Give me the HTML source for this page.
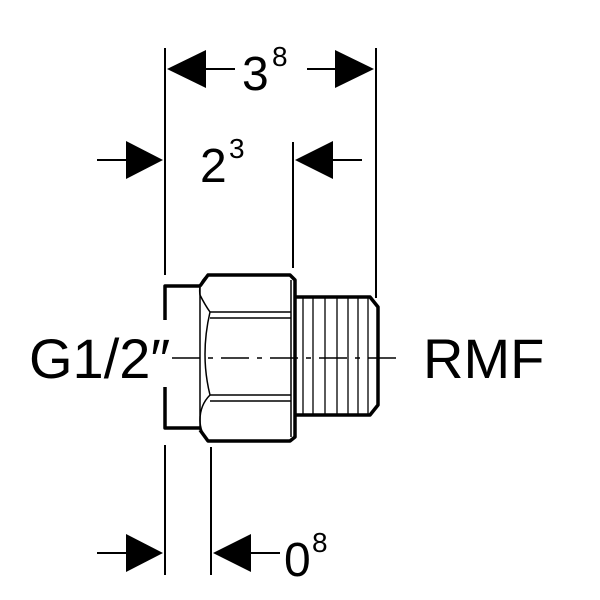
<!DOCTYPE html>
<html><head><style>
html,body{margin:0;padding:0;background:#fff;width:600px;height:600px;overflow:hidden}
svg text{font-family:"Liberation Sans",sans-serif;fill:#000}
</style></head><body>
<svg width="600" height="600" viewBox="0 0 600 600" xmlns="http://www.w3.org/2000/svg">
<g stroke="#000" stroke-width="2" fill="none">
<!-- extension lines -->
<line x1="165" y1="48" x2="165" y2="275"/>
<line x1="165" y1="445" x2="165" y2="575"/>
<line x1="376" y1="48" x2="376" y2="298"/>
<line x1="293" y1="142" x2="293" y2="268"/>
<line x1="211" y1="447" x2="211" y2="575"/>
<!-- dim lines -->
<line x1="205" y1="69" x2="235" y2="69"/>
<line x1="307" y1="69" x2="337" y2="69"/>
<line x1="97" y1="160" x2="127" y2="160"/>
<line x1="333" y1="160" x2="362" y2="160"/>
<line x1="97" y1="553" x2="127" y2="553"/>
<line x1="250" y1="553" x2="280" y2="553"/>
</g>
<g fill="#000">
<polygon points="167,69 206,50 206,88"/>
<polygon points="374,69 335,50 335,88"/>
<polygon points="163,160 126,141 126,179"/>
<polygon points="295,160 333,141 333,179"/>
<polygon points="163,553 126,534 126,572"/>
<polygon points="213,553 251,534 251,572"/>
</g>
<!-- body -->
<g stroke="#000" fill="none" stroke-linejoin="round">
<path d="M165,320 V286 H200" stroke-width="3.5"/>
<path d="M165,387 V428 H200" stroke-width="3.5"/>
<path d="M200,286 L208,275 H290 L295,280 V437 L290,441 H208 L200,430" stroke-width="3.5"/>
<path d="M208,275 Q198,282 200,295 Q205,305 210,312 Q200,355 210,395 Q200,405 200,420 Q200,432 208,441" stroke-width="1.5"/>
<path d="M200,286 V430" stroke-width="1.5"/>
<line x1="210" y1="312" x2="291" y2="312" stroke-width="1.5"/>
<line x1="210" y1="318" x2="291" y2="318" stroke-width="1.5"/>
<line x1="210" y1="395" x2="291" y2="395" stroke-width="1.5"/>
<line x1="210" y1="401" x2="291" y2="401" stroke-width="1.5"/>
<line x1="291" y1="280" x2="291" y2="437" stroke-width="1.5"/>
<path d="M295,297 H370 L378,307 V405 L370,415 H295" stroke-width="3.5"/>
<g stroke-width="1.3">
<line x1="303" y1="297" x2="303" y2="415"/>
<line x1="313" y1="297" x2="313" y2="415"/>
<line x1="325" y1="297" x2="325" y2="415"/>
<line x1="337" y1="297" x2="337" y2="415"/>
<line x1="348" y1="297" x2="348" y2="415"/>
<line x1="358" y1="297" x2="358" y2="415"/>
<line x1="368" y1="297" x2="368" y2="415"/>
</g>
</g>
<!-- center line -->
<line x1="172" y1="358" x2="400" y2="358" stroke="#000" stroke-width="1.5" stroke-dasharray="28,8,5,8"/>
<!-- labels -->
<text x="242" y="90" font-size="48">3</text>
<text x="272" y="66" font-size="28">8</text>
<text x="200" y="182" font-size="48">2</text>
<text x="229" y="158" font-size="28">3</text>
<text x="284" y="576" font-size="48">0</text>
<text x="312" y="552" font-size="28">8</text>
<text x="29" y="378" font-size="56">G1/2″</text>
<text x="423" y="378" font-size="56">RMF</text>
</svg>
</body></html>
